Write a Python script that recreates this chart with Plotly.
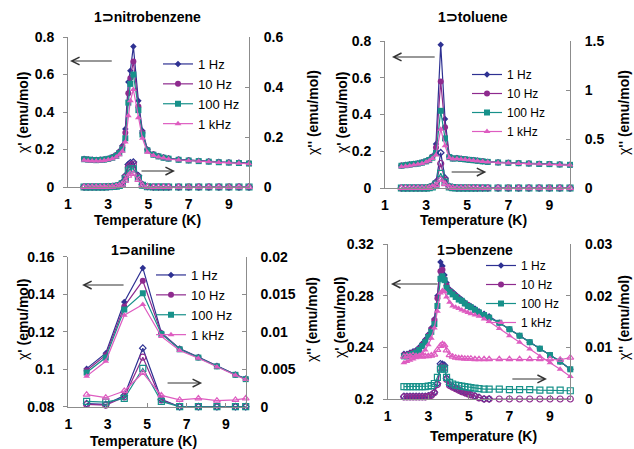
import plotly.graph_objects as go

W, H = 634, 449
FONT = "Liberation Sans, Arial, sans-serif"

FREQS = ["1 Hz", "10 Hz", "100 Hz", "1 kHz"]
COLORS = ["#2E3192", "#8E2A8E", "#17918A", "#DE5CC0"]
SYMBOLS = ["diamond", "circle", "square", "triangle-up"]
SIZES = [5, 6, 6, 6]

X_TICKS = [1, 3, 5, 7, 9]
X_TICKTEXT = ["1", "3", "5", "7", "9"]

# ---------------- 1⊃nitrobenzene ----------------
T_nb = [1.8, 2.0, 2.2, 2.4, 2.6, 2.8, 3.0, 3.2, 3.4, 3.55, 3.7, 3.85, 4.0, 4.1, 4.25, 4.5, 4.7, 4.95,
        5.25, 5.5, 5.75, 6.0, 6.5, 7.0, 7.5, 8.0, 8.5, 9.0, 9.5, 10.0]
nb_chi1_1Hz = [0.150, 0.148, 0.146, 0.145, 0.146, 0.148, 0.152, 0.160, 0.172, 0.190, 0.220, 0.310, 0.560, 0.620,
               0.750, 0.460, 0.300, 0.200, 0.175, 0.165, 0.158, 0.153, 0.147, 0.143, 0.140, 0.137, 0.134, 0.132,
               0.130, 0.127]
nb_chi1_10Hz = [0.149, 0.147, 0.145, 0.144, 0.145, 0.147, 0.151, 0.158, 0.170, 0.185, 0.210, 0.290, 0.500, 0.580,
                0.670, 0.430, 0.290, 0.198, 0.174, 0.164, 0.157, 0.152, 0.146, 0.142, 0.139, 0.136, 0.133, 0.131,
                0.129, 0.126]
nb_chi1_100Hz = [0.148, 0.146, 0.144, 0.143, 0.144, 0.146, 0.150, 0.156, 0.166, 0.180, 0.200, 0.260, 0.450, 0.550,
                 0.600, 0.410, 0.280, 0.195, 0.172, 0.163, 0.156, 0.151, 0.145, 0.141, 0.138, 0.135, 0.132, 0.130,
                 0.128, 0.125]
nb_chi1_1kHz = [0.142, 0.140, 0.139, 0.138, 0.139, 0.141, 0.145, 0.151, 0.160, 0.172, 0.190, 0.240, 0.380, 0.460,
                0.520, 0.370, 0.260, 0.185, 0.168, 0.160, 0.154, 0.149, 0.144, 0.140, 0.137, 0.134, 0.131, 0.129,
                0.127, 0.124]
nb_chi2_1Hz = [0, 0, 0, 0, 0, 0, 0.001, 0.002, 0.004, 0.008, 0.018, 0.045, 0.090, 0.097, 0.100, 0.045, 0.010, 0.002,
               0, 0, 0, 0, 0, 0, 0, 0, 0, 0, 0, 0]
nb_chi2_10Hz = [0, 0, 0, 0, 0, 0, 0.001, 0.002, 0.004, 0.007, 0.016, 0.040, 0.080, 0.088, 0.092, 0.040, 0.008, 0.002,
                0, 0, 0, 0, 0, 0, 0, 0, 0, 0, 0, 0]
nb_chi2_100Hz = [0, 0, 0, 0, 0, 0, 0.001, 0.002, 0.003, 0.006, 0.013, 0.032, 0.065, 0.072, 0.073, 0.035, 0.007, 0.001,
                 0, 0, 0, 0, 0, 0, 0, 0, 0, 0, 0, 0]
nb_chi2_1kHz = [0, 0, 0, 0, 0, 0, 0.001, 0.001, 0.003, 0.005, 0.010, 0.025, 0.045, 0.052, 0.053, 0.028, 0.006, 0.001,
                0, 0, 0, 0, 0, 0, 0, 0, 0, 0, 0, 0]

# ---------------- 1⊃toluene ----------------
T_tol = [1.8, 2.0, 2.2, 2.4, 2.6, 2.8, 3.0, 3.15, 3.3, 3.48, 3.71, 3.92, 4.13, 4.3, 4.5, 4.7, 4.9, 5.1, 5.3, 5.5,
         5.75, 6.0, 6.5, 7.0, 7.5, 8.0, 8.5, 9.0, 9.5, 10.0]
tol_chi1_1Hz = [0.123, 0.126, 0.129, 0.132, 0.135, 0.140, 0.147, 0.155, 0.172, 0.240, 0.780, 0.375, 0.172, 0.162,
                0.163, 0.160, 0.157, 0.154, 0.152, 0.149, 0.146, 0.143, 0.140, 0.138, 0.136, 0.134, 0.132, 0.131,
                0.129, 0.127]
tol_chi1_10Hz = [0.122, 0.125, 0.128, 0.131, 0.134, 0.139, 0.146, 0.154, 0.170, 0.220, 0.580, 0.330, 0.170, 0.161,
                 0.162, 0.159, 0.156, 0.153, 0.151, 0.148, 0.145, 0.142, 0.139, 0.137, 0.135, 0.133, 0.131, 0.130,
                 0.128, 0.126]
tol_chi1_100Hz = [0.121, 0.124, 0.127, 0.130, 0.133, 0.138, 0.145, 0.152, 0.165, 0.190, 0.420, 0.270, 0.168, 0.160,
                  0.161, 0.158, 0.156, 0.153, 0.151, 0.148, 0.145, 0.142, 0.139, 0.137, 0.135, 0.133, 0.131, 0.130,
                  0.128, 0.126]
tol_chi1_1kHz = [0.115, 0.118, 0.121, 0.125, 0.129, 0.134, 0.141, 0.148, 0.160, 0.180, 0.320, 0.230, 0.165, 0.158,
                 0.159, 0.157, 0.155, 0.152, 0.150, 0.147, 0.144, 0.141, 0.138, 0.136, 0.134, 0.132, 0.130, 0.129,
                 0.127, 0.125]
tol_chi2_1Hz = [0, 0, 0, 0, 0, 0, 0, 0.005, 0.020, 0.060, 0.360, 0.100, 0.015, 0.005,
                0, 0, 0, 0, 0, 0, 0, 0, 0, 0, 0, 0, 0, 0, 0, 0]
tol_chi2_10Hz = [0, 0, 0, 0, 0, 0, 0, 0.004, 0.016, 0.050, 0.250, 0.080, 0.012, 0.004,
                 0, 0, 0, 0, 0, 0, 0, 0, 0, 0, 0, 0, 0, 0, 0, 0]
tol_chi2_100Hz = [0, 0, 0, 0, 0, 0, 0, 0.003, 0.012, 0.040, 0.150, 0.060, 0.010, 0.003,
                  0, 0, 0, 0, 0, 0, 0, 0, 0, 0, 0, 0, 0, 0, 0, 0]
tol_chi2_1kHz = [0, 0, 0, 0, 0, 0, 0, 0.002, 0.010, 0.030, 0.085, 0.040, 0.008, 0.002,
                 0, 0, 0, 0, 0, 0, 0, 0, 0, 0, 0, 0, 0, 0, 0, 0]

# ---------------- 1⊃aniline ----------------
T_an = [1.93, 2.9, 3.84, 4.78, 5.72, 6.65, 7.6, 8.54, 9.48, 10.0]
an_chi1_1Hz = [0.1003, 0.1085, 0.1358, 0.1540, 0.1195, 0.1110, 0.1065, 0.1018, 0.0972, 0.0950]
an_chi1_10Hz = [0.0993, 0.1075, 0.1335, 0.1472, 0.1192, 0.1108, 0.1063, 0.1016, 0.0970, 0.0948]
an_chi1_100Hz = [0.0982, 0.1062, 0.1318, 0.1405, 0.1188, 0.1106, 0.1062, 0.1015, 0.0970, 0.0947]
an_chi1_1kHz = [0.0963, 0.1042, 0.1288, 0.1345, 0.1175, 0.1100, 0.1058, 0.1012, 0.0968, 0.0945]
an_chi2_1Hz = [0.0004, 0.0003, 0.0015, 0.0078, 0.0010, 0.0, 0.0, 0.0, 0.0, 0.0]
an_chi2_10Hz = [0.0003, 0.0002, 0.0013, 0.0066, 0.0009, 0.0, 0.0, 0.0, 0.0, 0.0]
an_chi2_100Hz = [0.0007, 0.0006, 0.0011, 0.0051, 0.0007, 0.0, 0.0, 0.0, 0.0, 0.0]
an_chi2_1kHz = [0.0016, 0.0012, 0.0021, 0.0045, 0.0015, 0.0009, 0.0011, 0.0008, 0.0009, 0.0011]

# ---------------- 1⊃benzene ----------------
T_bz = [1.8, 1.95, 2.1, 2.25, 2.4, 2.55, 2.7, 2.85, 3.0, 3.15, 3.3, 3.45, 3.6, 3.7, 3.8, 3.9, 4.05, 4.2, 4.35,
        4.5, 4.65, 4.8, 4.95, 5.1, 5.3, 5.5, 5.75, 6.0, 6.5, 7.0, 7.5, 8.0, 8.5, 9.0, 9.5, 10.0]
bz_chi1_1Hz = [0.235, 0.235, 0.236, 0.237, 0.238, 0.240, 0.243, 0.246, 0.250, 0.255, 0.262, 0.280, 0.306, 0.303,
               0.296, 0.290, 0.285, 0.283, 0.281, 0.279, 0.277, 0.275, 0.273, 0.272, 0.270, 0.268, 0.266, 0.264,
               0.259, 0.254, 0.249, 0.244, 0.239, 0.234, 0.229, 0.223]
bz_chi1_10Hz = [0.234, 0.234, 0.235, 0.236, 0.237, 0.239, 0.242, 0.245, 0.249, 0.254, 0.261, 0.278, 0.299, 0.300,
                0.293, 0.288, 0.284, 0.282, 0.280, 0.278, 0.276, 0.274, 0.273, 0.271, 0.269, 0.267, 0.265, 0.263,
                0.259, 0.254, 0.249, 0.244, 0.239, 0.234, 0.229, 0.223]
bz_chi1_100Hz = [0.233, 0.233, 0.234, 0.235, 0.236, 0.238, 0.241, 0.244, 0.248, 0.252, 0.258, 0.272, 0.293, 0.295,
                 0.292, 0.286, 0.283, 0.281, 0.279, 0.277, 0.276, 0.274, 0.272, 0.271, 0.269, 0.267, 0.265, 0.263,
                 0.259, 0.254, 0.249, 0.244, 0.239, 0.234, 0.229, 0.223]
bz_chi1_1kHz = [0.228, 0.229, 0.230, 0.231, 0.232, 0.233, 0.235, 0.238, 0.242, 0.247, 0.255, 0.268, 0.282, 0.284,
                0.283, 0.279, 0.275, 0.272, 0.271, 0.270, 0.269, 0.268, 0.267, 0.266, 0.265, 0.264, 0.262, 0.260,
                0.2545, 0.249, 0.244, 0.2387, 0.233, 0.228, 0.223, 0.2174]
bz_chi2_1Hz = [0.0005, 0.0005, 0.0005, 0.0005, 0.0005, 0.0005, 0.0005, 0.0005, 0.0006, 0.0008, 0.0013, 0.0030,
               0.0068, 0.0067, 0.0065, 0.0040, 0.0028, 0.0025, 0.0021, 0.0018, 0.0015, 0.0013, 0.0011, 0.0009,
               0.0006, 0.0003, 0.0, 0.0, None, None, None, None, None, None, None, None]
bz_chi2_10Hz = [0.0004, 0.0004, 0.0004, 0.0004, 0.0004, 0.0004, 0.0004, 0.0004, 0.0005, 0.0007, 0.0012, 0.0028,
                0.0060, 0.0062, 0.0060, 0.0038, 0.0026, 0.0023, 0.0020, 0.0017, 0.0014, 0.0012, 0.0010, 0.0008,
                0.0005, 0.0002, 0.0, 0.0, 0.0, 0.0, 0.0, 0.0, 0.0, 0.0, 0.0, 0.0]
bz_chi2_100Hz = [0.0024, 0.0024, 0.0024, 0.0024, 0.0024, 0.0024, 0.0024, 0.0024, 0.0025, 0.0026, 0.0030, 0.0042,
                 0.0058, 0.0060, 0.0058, 0.0042, 0.0032, 0.0029, 0.0027, 0.0026, 0.0025, 0.0024, 0.0023, 0.0022,
                 0.0021, 0.0020, 0.0019, 0.0019, 0.0019, 0.0018, 0.0018, 0.0018, 0.0017, 0.0017, 0.0017, 0.0016]
bz_chi2_1kHz = [0.0082, 0.0083, 0.0083, 0.0084, 0.0083, 0.0083, 0.0082, 0.0083, 0.0083, 0.0084, 0.0086, 0.0095,
                0.0103, 0.0106, 0.0104, 0.0094, 0.0085, 0.0082, 0.0080, 0.0079, 0.0079, 0.0078, 0.0078, 0.0078,
                0.0077, 0.0077, 0.0077, 0.0077, 0.0077, 0.0077, 0.0077, 0.0077, 0.0077, 0.0077, 0.0076, 0.0080]

# axis tick labels
nb_y1_ticks = [0, 0.2, 0.4, 0.6, 0.8]; nb_y1_text = ["0", "0.2", "0.4", "0.6", "0.8"]
nb_y2_ticks = [0, 0.2, 0.4, 0.6]; nb_y2_text = ["0", "0.2", "0.4", "0.6"]
tol_y1_ticks = [0, 0.2, 0.4, 0.6, 0.8]; tol_y1_text = ["0", "0.2", "0.4", "0.6", "0.8"]
tol_y2_ticks = [0, 0.5, 1, 1.5]; tol_y2_text = ["0", "0.5", "1", "1.5"]
an_y1_ticks = [0.08, 0.1, 0.12, 0.14, 0.16]; an_y1_text = ["0.08", "0.1", "0.12", "0.14", "0.16"]
an_y2_ticks = [0, 0.005, 0.01, 0.015, 0.02]; an_y2_text = ["0", "0.005", "0.01", "0.015", "0.02"]
bz_y1_ticks = [0.2, 0.24, 0.28, 0.32]; bz_y1_text = ["0.2", "0.24", "0.28", "0.32"]
bz_y2_ticks = [0, 0.01, 0.02, 0.03]; bz_y2_text = ["0", "0.01", "0.02", "0.03"]

panels = [
    dict(title="1⊃nitrobenzene", T=T_nb,
         chi1=[nb_chi1_1Hz, nb_chi1_10Hz, nb_chi1_100Hz, nb_chi1_1kHz],
         chi2=[nb_chi2_1Hz, nb_chi2_10Hz, nb_chi2_100Hz, nb_chi2_1kHz],
         y1=(0, 0.8, nb_y1_ticks, nb_y1_text), y2=(0, 0.6, nb_y2_ticks, nb_y2_text),
         box=(68, 249, 37, 187), title_xy=(147, 17), xt_xy=(147, 220), yl_x=23, yr_x=313, yt_y=113,
         legend=(158, 49), legfont=13,
         arrows=[(1.1, 0.672, 3.25, 0.672), (6.32, 0.085, 4.58, 0.085)]),
    dict(title="1⊃toluene", T=T_tol,
         chi1=[tol_chi1_1Hz, tol_chi1_10Hz, tol_chi1_100Hz, tol_chi1_1kHz],
         chi2=[tol_chi2_1Hz, tol_chi2_10Hz, tol_chi2_100Hz, tol_chi2_1kHz],
         y1=(0, 0.8, tol_y1_ticks, tol_y1_text), y2=(0, 1.5, tol_y2_ticks, tol_y2_text),
         box=(385, 570, 41, 188), title_xy=(473, 17), xt_xy=(473, 220), yl_x=342, yr_x=624, yt_y=113,
         legend=(467, 60), legfont=12,
         arrows=[(1.34, 0.713, 3.49, 0.713), (5.93, 0.087, 4.17, 0.087)]),
    dict(title="1⊃aniline", T=T_an,
         chi1=[an_chi1_1Hz, an_chi1_10Hz, an_chi1_100Hz, an_chi1_1kHz],
         chi2=[an_chi2_1Hz, an_chi2_10Hz, an_chi2_100Hz, an_chi2_1kHz],
         y1=(0.08, 0.16, an_y1_ticks, an_y1_text), y2=(0, 0.02, an_y2_ticks, an_y2_text),
         box=(68.3, 245.7, 256.7, 406.7), title_xy=(143, 250), xt_xy=(143, 441), yl_x=23, yr_x=312, yt_y=320,
         legend=(151, 260), legfont=13,
         arrows=[(1.70, 0.1449, 3.88, 0.1449), (7.79, 0.0926, 5.96, 0.0926)]),
    dict(title="1⊃benzene", T=T_bz,
         chi1=[bz_chi1_1Hz, bz_chi1_10Hz, bz_chi1_100Hz, bz_chi1_1kHz],
         chi2=[bz_chi2_1Hz, bz_chi2_10Hz, bz_chi2_100Hz, bz_chi2_1kHz],
         y1=(0.2, 0.32, bz_y1_ticks, bz_y1_text), y2=(0, 0.03, bz_y2_ticks, bz_y2_text),
         box=(387.7, 570.3, 244, 399), title_xy=(475, 250), xt_xy=(483, 436), yl_x=340, yr_x=624, yt_y=318,
         legend=(481, 251), legfont=12,
         arrows=[(1.16, 0.289, 3.53, 0.289), (8.85, 0.2155, 7.07, 0.2155)]),
]

fig = go.Figure()
layout = {}
annotations = []
AXCOL = "#8C8C8C"
tickfont = dict(family=FONT, size=14, color="black", weight="bold")
labfont = dict(family=FONT, size=14, color="black")

for i, p in enumerate(panels):
    n = i + 1
    xa = "xaxis" if n == 1 else f"xaxis{n}"
    ya = "yaxis" if n == 1 else f"yaxis{n}"
    yb = f"yaxis{n + 4}"
    xref = "x" if n == 1 else f"x{n}"
    yref = "y" if n == 1 else f"y{n}"
    yref2 = f"y{n + 4}"
    leg = "legend" if n == 1 else f"legend{n}"
    x0, x1, top, bot = p["box"]

    for k in range(4):
        fig.add_trace(go.Scatter(
            x=p["T"], y=p["chi1"][k], name=FREQS[k], xaxis=xref, yaxis=yref, legend=leg,
            mode="lines+markers", cliponaxis=False,
            line=dict(color=COLORS[k], width=1.2),
            marker=dict(symbol=SYMBOLS[k], size=SIZES[k], color=COLORS[k]),
        ))
    for k in range(4):
        fig.add_trace(go.Scatter(
            x=p["T"], y=p["chi2"][k], name=FREQS[k], xaxis=xref, yaxis=yref2, showlegend=False,
            mode="lines+markers", cliponaxis=False,
            line=dict(color=COLORS[k], width=1.2),
            marker=dict(symbol=SYMBOLS[k] + "-open", size=SIZES[k], color=COLORS[k], line=dict(width=1.2)),
        ))

    common = dict(showline=True, linecolor=AXCOL, linewidth=1, ticklen=4, tickcolor=AXCOL, showgrid=False,
                  zeroline=False, tickfont=tickfont, automargin=False)
    layout[xa] = dict(domain=[x0 / W, x1 / W], anchor=yref, range=[1, 10], tickvals=X_TICKS,
                      ticktext=X_TICKTEXT, ticks="inside", ticklabelstandoff=4, **common)
    lo, hi, tv, tt = p["y1"]
    layout[ya] = dict(domain=[1 - bot / H, 1 - top / H], anchor=xref, range=[lo, hi], tickvals=tv,
                      ticktext=tt, ticks="outside", ticklabelstandoff=6, **common)
    lo2, hi2, tv2, tt2 = p["y2"]
    layout[yb] = dict(overlaying=yref, side="right", anchor=xref, range=[lo2, hi2], tickvals=tv2,
                      ticktext=tt2, ticks="inside", ticklabelstandoff=11, **common)
    lx, ly = p["legend"]
    layout[leg] = dict(x=lx / W, y=1 - ly / H, xanchor="left", yanchor="top", bgcolor="rgba(0,0,0,0)",
                       font=dict(family=FONT, size=p["legfont"], color="black"), itemwidth=30,
                       tracegroupgap=0)

    tx, ty = p["title_xy"]
    annotations.append(dict(text=f"<b>{p['title']}</b>", x=tx / W, y=1 - ty / H, xref="paper", yref="paper",
                            xanchor="center", yanchor="middle", showarrow=False, font=labfont))
    ax_, ay_ = p["xt_xy"]
    annotations.append(dict(text="<b>Temperature (K)</b>", x=ax_ / W, y=1 - ay_ / H,
                            xref="paper", yref="paper", xanchor="center", yanchor="middle",
                            showarrow=False, font=labfont))
    annotations.append(dict(text="χ<b>' (emu/mol)</b>", x=p["yl_x"] / W, y=1 - p["yt_y"] / H, xref="paper",
                            yref="paper", xanchor="center", yanchor="middle", showarrow=False,
                            textangle=-90, font=labfont))
    annotations.append(dict(text="χ<b>'' (emu/mol)</b>", x=p["yr_x"] / W, y=1 - p["yt_y"] / H, xref="paper",
                            yref="paper", xanchor="center", yanchor="middle", showarrow=False,
                            textangle=-90, font=labfont))
    for (hx, hy, tx_, ty_) in p["arrows"]:
        annotations.append(dict(text="", x=hx, y=hy, ax=tx_, ay=ty_, xref=xref, yref=yref,
                                axref=xref, ayref=yref, showarrow=True, arrowhead=5, arrowsize=1.4,
                                arrowwidth=1.1, arrowcolor="#333333"))

fig.update_layout(**layout)
fig.update_layout(template="none", width=W, height=H, margin=dict(l=0, r=0, t=0, b=0, pad=0),
                  paper_bgcolor="white", plot_bgcolor="rgba(0,0,0,0)", annotations=annotations,
                  showlegend=True, font=dict(family=FONT, color="black"))
fig.write_html("out.html", config={"displayModeBar": False},
               post_script="document.body.style.margin='0';document.body.style.overflow='hidden';")
